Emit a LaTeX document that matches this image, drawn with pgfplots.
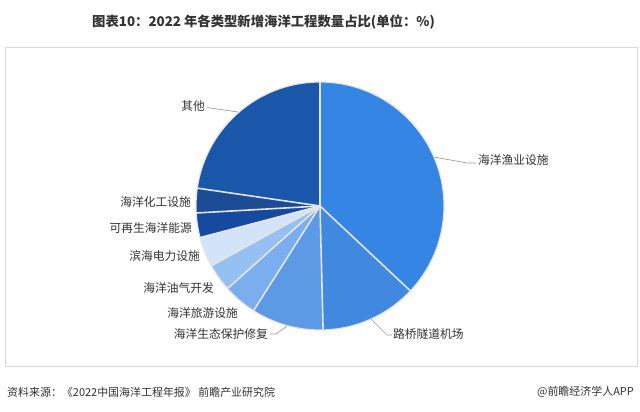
\documentclass[border=0pt]{standalone}
\usepackage{pgfplots}
\pgfplotsset{compat=1.18}
\usepackage{pgfplotstable}
\usepackage{fontspec}
\setmainfont{Noto Sans CJK SC}
\definecolor{c1}{RGB}{53,133,228}
\definecolor{c2}{RGB}{64,136,224}
\definecolor{c3}{RGB}{92,154,230}
\definecolor{c4}{RGB}{122,174,238}
\definecolor{c5}{RGB}{150,192,242}
\definecolor{c6}{RGB}{212,228,248}
\definecolor{c7}{RGB}{22,74,160}
\definecolor{c8}{RGB}{28,76,150}
\definecolor{c9}{RGB}{26,86,170}
\definecolor{txt}{RGB}{51,51,51}
\definecolor{sep}{RGB}{228,228,228}
\definecolor{lead}{RGB}{160,160,160}
\definecolor{frame}{RGB}{217,217,217}

% share of each category (%), clockwise from 12 o'clock
\pgfplotstableread{
idx value col
0 37.0 c1
1 12.6 c2
2 9.4 c3
3 4.4 c4
4 3.6 c5
5 3.9 c6
6 3.2 c7
7 3.2 c8
8 22.7 c9
}\piedata

\begin{document}
\begin{tikzpicture}
\begin{axis}[x=1bp,y=1bp,xmin=0,xmax=640,ymin=0,ymax=412,hide axis,clip=false,enlargelimits=false]
\def\R{124}
\def\cx{320}
\def\cy{206}
\fill[white] (axis cs:0,0) rectangle (axis cs:640,412);
\draw[frame,line width=0.9bp] (axis cs:5.5,364.5) rectangle (axis cs:637,46);
\def\cum{90}
\pgfplotsforeachungrouped \i in {0,...,8}{%
  \pgfplotstablegetelem{\i}{value}\of\piedata \let\v\pgfplotsretval
  \pgfplotstablegetelem{\i}{col}\of\piedata \let\c\pgfplotsretval
  \pgfmathsetmacro\a{\cum}%
  \pgfmathsetmacro\b{\cum-\v*3.6}%
  \pgfmathsetmacro\sx{\cx+\R*cos(\a)}%
  \pgfmathsetmacro\sy{\cy+\R*sin(\a)}%
  \edef\temp{\noexpand\fill[\c] (axis cs:\cx,\cy) -- (axis cs:\sx,\sy) arc[start angle=\a, end angle=\b, radius=\R bp] -- cycle;}%
  \temp
  \global\let\cum\b
}
\def\cum{90}
\pgfplotsforeachungrouped \i in {0,...,8}{%
  \pgfplotstablegetelem{\i}{value}\of\piedata \let\v\pgfplotsretval
  \pgfmathsetmacro\a{\cum}%
  \pgfmathsetmacro\b{\cum-\v*3.6}%
  \pgfmathsetmacro\sx{\cx+\R*cos(\a)}%
  \pgfmathsetmacro\sy{\cy+\R*sin(\a)}%
  \edef\temp{\noexpand\draw[sep,line width=1.6bp] (axis cs:\cx,\cy) -- (axis cs:\sx,\sy);}%
  \temp
  \global\let\cum\b
}
\draw[sep,line width=1.2bp] (axis cs:\cx,\cy) circle[radius=\R bp];

% leaders
\draw[lead,line width=0.7bp] (axis cs:207,304.5) -- (axis cs:238,300);
\draw[lead,line width=0.7bp] (axis cs:434,255) -- (axis cs:467,249) -- (axis cs:476,249);
\draw[lead,line width=0.7bp] (axis cs:371,93) -- (axis cs:387,77) -- (axis cs:392,77);
\draw[lead,line width=0.7bp] (axis cs:287,86) -- (axis cs:276,78) -- (axis cs:270,78);

\tikzset{lab/.style={font=\fontsize{11.8}{13}\selectfont,text=txt,inner sep=0pt}}
\node[lab,anchor=east] at (axis cs:205,306) {其他};
\node[lab,anchor=west] at (axis cs:478,252) {海洋渔业设施};
\node[lab,anchor=west] at (axis cs:393,78) {路桥隧道机场};
\node[lab,anchor=east] at (axis cs:268,78) {海洋生态保护修复};
\node[lab,anchor=east] at (axis cs:238,99) {海洋旅游设施};
\node[lab,anchor=east] at (axis cs:214,123.5) {海洋油气开发};
\node[lab,anchor=east] at (axis cs:200,155.5) {滨海电力设施};
\node[lab,anchor=east] at (axis cs:192,184) {可再生海洋能源};
\node[lab,anchor=east] at (axis cs:191,209.5) {海洋化工设施};

\node[anchor=west,font=\fontsize{13.4}{16}\selectfont\bfseries,text=txt,inner sep=0pt] at (axis cs:92,390) {图表10：2022 年各类型新增海洋工程数量占比(单位：\%)};
\node[anchor=west,font=\fontsize{11}{13}\selectfont,text=txt,inner sep=0pt] at (axis cs:7,20) {资料来源：《2022中国海洋工程年报》 前瞻产业研究院};
\node[anchor=east,font=\fontsize{11}{13}\selectfont,text=txt,inner sep=0pt] at (axis cs:634,20) {@前瞻经济学人APP};
\end{axis}
\pgfresetboundingbox
\useasboundingbox (0,0) rectangle (640bp,412bp);
\end{tikzpicture}
\end{document}
